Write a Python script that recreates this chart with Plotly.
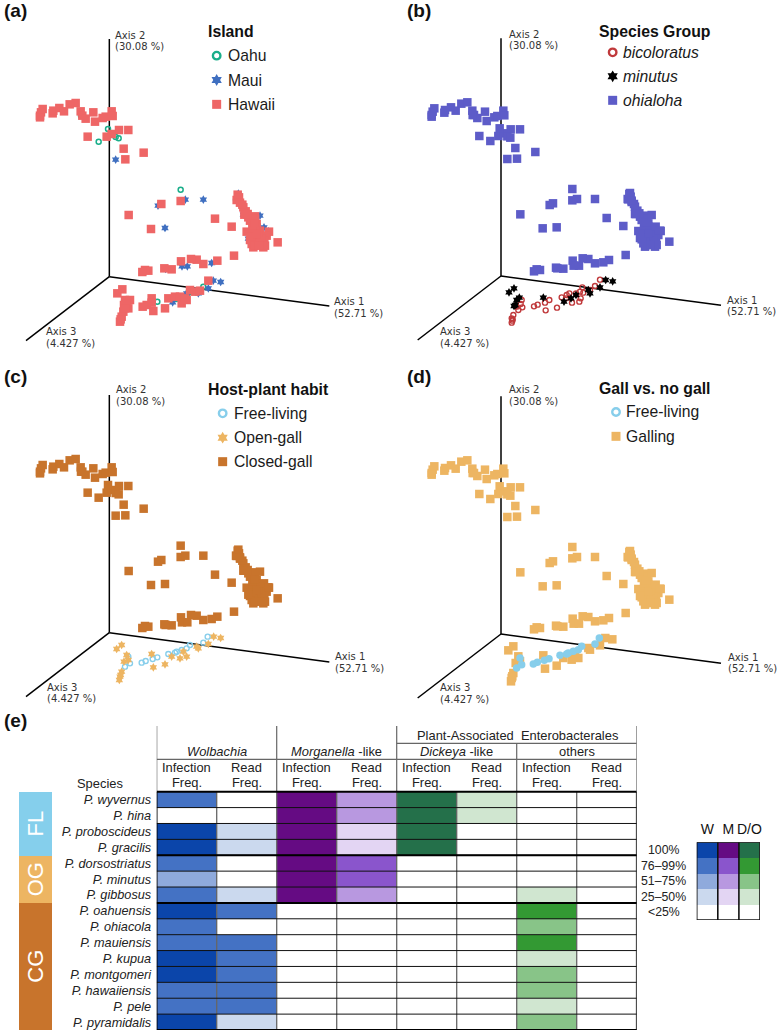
import plotly.graph_objects as go

W, H = 777, 1032
SANS = "Liberation Sans"
AXF = "DejaVu Sans"

# ---------- ordination data (units: 1/3 px, y downward in source crops) ----------
SRC_A = (328, 830)
SRC_B = (333, 828)
SRC_C = (328, 848)

upper_hawaii = [(125,345),(128,335),(133,325),(125,350),(163,338),(165,330),(183,322),(197,332),(214,311),(232,307),(247,332),
    (252,345),(262,354),(285,335),(290,363),(313,352),(322,348),(340,332),(343,346),(362,388),(390,388),(268,408),
    (325,408),(340,400),(376,444),(381,476),(436,456),(547,601),(489,610),(391,643),(458,685),(650,654),(700,678),
    (718,582),(715,598),(722,590),(725,606),(735,620),(742,632),(738,642),(750,650),(770,647),(765,660),(775,670),(745,693),
    (765,690),(785,690),(812,693),(770,705),(790,705),(805,705),(755,718),(780,718),(798,720),(838,725),(765,740),
    (795,740),(760,730),(790,730),(775,680),(770,690),(775,712),(785,725),(770,725),(762,675),(790,715),(800,735),
    (755,660),(770,655),(768,668),(780,698),(762,700),(758,708),(768,735),(782,735),(775,700),(748,640),(732,612),
    (707,765),(657,780),(615,790),(595,777),(578,775),(548,782),(520,806),(498,803),(450,810),(440,808),(432,814)]
upper_oahu = [(248,345),(329,385),(352,409),(361,413),(301,423),(547,567),(713,597)]
upper_maui = [(352,477),(479,615),(561,597),(615,597),(500,682),(720,579),(725,602),(735,642),(785,645),(797,680),
    (810,692),(750,714),(640,787),(551,797),(567,797),(502,805)]

lower_a_hawaii = [(352,880),(367,868),(375,900),(390,900),(372,915),(385,925),(370,935),(365,950),(360,965),(362,958),
    (380,910),(428,920),(440,915),(455,895),(460,933),(495,925),(505,895),(525,890),(545,910),(560,900),(570,870),
    (585,875),(600,872),(625,842),(540,890),(555,895),(455,908),(375,925)]
lower_a_oahu = [(472,905),(528,897),(565,878),(610,860)]
lower_a_maui = [(640,842),(662,846),(625,865),(595,880),(518,907),(560,880)]

lower_b_bicoloratus = [(630,839),(615,858),(600,870),(577,862),(570,875),(580,878),(558,880),(538,880),(530,885),(515,892),
    (528,895),(546,908),(568,905),(572,895),(478,900),(465,908),(443,914),(432,919),(467,931),(501,923),(395,900),
    (392,912),(397,922),(385,930),(370,945),(365,955),(367,962),(365,968),(368,958),(380,920)]
lower_b_minutus = [(647,840),(668,844),(630,862),(600,880),(595,870),(558,885),(543,895),(522,905),(460,893),(372,865),
    (357,877),(388,893),(380,900),(376,915),(372,918)]

lower_c_free = [(623,860),(610,878),(570,885),(560,895),(525,908),(505,912),(472,922),(458,927),(437,933),(425,938),
    (390,940),(385,920),(375,950),(530,905),(545,900)]
lower_c_open = [(641,860),(662,864),(625,882),(595,895),(590,890),(550,905),(515,920),(540,925),(560,920),(455,912),
    (495,943),(460,952),(365,885),(350,897),(380,915),(372,935),(385,930),(365,965),(360,980),(358,990),(362,975)]

# Axis end points, relative to the origin
axis_ends = [(660, -88), (0, 713), (-250, -192)]

# ---------- table data ----------
species = ["P. wyvernus","P. hina","P. proboscideus","P. gracilis","P. dorsostriatus","P. minutus","P. gibbosus",
           "P. oahuensis","P. ohiacola","P. mauiensis","P. kupua","P. montgomeri","P. hawaiiensis","P. pele","P. pyramidalis"]
wolbachia_inf  = [3,0,4,4,3,2,3,4,3,3,4,4,3,3,4]
wolbachia_read = [0,0,1,1,0,0,1,3,0,3,3,3,3,3,1]
morganella_inf  = [4,4,4,4,4,4,4,0,0,0,0,0,0,0,0]
morganella_read = [2,2,1,1,3,3,2,0,0,0,0,0,0,0,0]
dickeya_inf  = [4,4,4,4,0,0,0,0,0,0,0,0,0,0,0]
dickeya_read = [1,1,0,0,0,0,0,0,0,0,0,0,0,0,0]
others_inf  = [0,0,0,0,0,0,1,3,2,3,1,2,2,1,2]
others_read = [0]*15
table_columns = [wolbachia_inf, wolbachia_read, morganella_inf, morganella_read,
                 dickeya_inf, dickeya_read, others_inf, others_read]
column_family = [0,0,1,1,2,2,2,2]
habit_groups = ["FL","OG","CG"]
habit_sizes = [4,3,8]
habit_colors = ["#85CFEC","#EDB562","#C8742C"]
level_labels = ["100%","76–99%","51–75%","25–50%","<25%"]
family_labels = ["W","M","D/O"]
palette = [["#FFFFFF","#CBD9EE","#8FAADC","#4472C4","#0B45AA"],
           ["#FFFFFF","#E3D5F3","#B898E0","#8A55CC","#650B83"],
           ["#FFFFFF","#D0E6D0","#88C488","#339933","#24704A"]]

# ---------- helpers ----------
def xd(a, b): return [a / W, b / W]
def yd(top, bottom): return [1 - bottom / H, 1 - top / H]
def rel(points, origin):
    return [p[0] - origin[0] for p in points], [origin[1] - p[1] for p in points]

fig = go.Figure()
layout = dict(width=W, height=H, margin=dict(l=0, r=0, t=0, b=0, autoexpand=False), paper_bgcolor="white", plot_bgcolor="rgba(0,0,0,0)",
              showlegend=False, font=dict(family=SANS, color="#222222"), bargap=0)
annotations, shapes = [], []

def add_ann(n, x, y, text, size, family=SANS, xanchor="left", color="#111111", textangle=0):
    annotations.append(dict(xref=f"x{n}", yref=f"y{n}", x=x, y=y, text=text, showarrow=False, xanchor=xanchor,
                            xshift=-1.5 if xanchor == "left" else 0,
                            yanchor="middle", align="left" if xanchor == "left" else "center",
                            font=dict(family=family, size=size, color=color), textangle=textangle))

def add_paper(px, py, text, size, xanchor="center", color="#222222"):
    annotations.append(dict(xref="paper", yref="paper", x=px / W, y=1 - py / H, text=text, showarrow=False,
                            xanchor=xanchor, yanchor="middle", font=dict(family=SANS, size=size, color=color)))

def setup_panel(n, dom_x, dom_y, origin_px):
    ox, oy = origin_px
    layout[f"xaxis{n}"] = dict(domain=xd(*dom_x), range=[(dom_x[0]-ox)*3, (dom_x[1]-ox)*3], visible=False, anchor=f"y{n}", fixedrange=True)
    layout[f"yaxis{n}"] = dict(domain=yd(*dom_y), range=[(oy-dom_y[1])*3, (oy-dom_y[0])*3], visible=False, anchor=f"x{n}", fixedrange=True)
    for ex, ey in axis_ends:
        fig.add_trace(go.Scatter(x=[0, ex], y=[0, ey], mode="lines", line=dict(color="black", width=1.5),
                                 xaxis=f"x{n}", yaxis=f"y{n}", hoverinfo="skip", cliponaxis=False))

def add_points(n, xy, symbol, color, size, hollow=False, lw=1.6):
    marker = dict(symbol=symbol, size=size, color=color, line=dict(width=0))
    if hollow:
        marker = dict(symbol="circle-open", size=size, color=color, line=dict(width=lw, color=color))
    fig.add_trace(go.Scatter(x=xy[0], y=xy[1], mode="markers", marker=marker, xaxis=f"x{n}", yaxis=f"y{n}", cliponaxis=False))

def add_legend(n, title, title_xy, items):
    add_ann(n, title_xy[0], title_xy[1], f"<b>{title}</b>", 15.8, color="#111111")
    for label, mx, tx, y, symbol, color, hollow in items:
        if hollow:
            add_points(n, ([mx], [y]), symbol, color, 7.5, True, 2.4)
        else:
            add_points(n, ([mx], [y]), symbol, color, 9)
        add_ann(n, tx, y, label, 15.7, color="#1a1a1a")

def axis_labels(n, pos):
    (a1x, a1y), (a2x, a2y), (a3x, a3y) = pos
    for x, y, t1, t2 in [(a1x, a1y, "Axis 1", "(52.71 %)"), (a2x, a2y, "Axis 2", "(30.08 %)"), (a3x, a3y, "Axis 3", "(4.427 %)")]:
        add_ann(n, x, y + 17, t1, 10, AXF, color="#333333")
        add_ann(n, x, y - 17, t2, 10, AXF, color="#333333")

upper_all = upper_hawaii + upper_oahu + upper_maui
PX_B = (501, 276)

# Panel a
setup_panel(1, (0, 388), (0, 345), (109.33, 276.67))
add_points(1, rel(upper_oahu, SRC_B), "circle", "#1AAE8A", 5, True, 1.5)
add_points(1, rel(lower_a_oahu, SRC_A), "circle", "#1AAE8A", 5, True, 1.5)
add_points(1, rel(upper_maui, SRC_B), "hexagram", "#3F6FC0", 6.5)
add_points(1, rel(lower_a_maui, SRC_A), "hexagram", "#3F6FC0", 6.5)
add_points(1, rel(upper_hawaii, SRC_B), "square", "#EE6666", 8.5)
add_points(1, rel(lower_a_hawaii, SRC_A), "square", "#EE6666", 8.5)
add_legend(1, "Island", (622-328, 830-95), [
    ("Oahu", 650-328, 683-328, 830-167, "circle", "#1AAE8A", True),
    ("Maui", 650-328, 683-328, 830-240, "hexagram", "#3F6FC0", False),
    ("Hawaii", 650-328, 683-328, 830-313, "square", "#EE6666", False)])
axis_labels(1, [(672, -92), (16, 707), (-193, -182)])

# Panel b
setup_panel(2, (388, 777), (0, 345), PX_B)
add_points(2, rel(upper_all, SRC_B), "square", "#5D5CC8", 8.5)
add_points(2, rel(lower_b_bicoloratus, SRC_B), "circle", "#C0393B", 5, True, 1.4)
add_points(2, rel(lower_b_minutus, SRC_B), "hexagram", "#000000", 6.5)
add_legend(2, "Species Group", (626-333, 828-95), [
    ("<i>bicoloratus</i>", 668-333, 698-333, 828-157, "circle", "#C0393B", True),
    ("<i>minutus</i>", 668-333, 698-333, 828-229, "hexagram", "#000000", False),
    ("<i>ohialoha</i>", 668-333, 698-333, 828-301, "square", "#5D5CC8", False)])
axis_labels(2, [(677, -89), (22, 708), (-186, -184)])

# Panel c
setup_panel(3, (0, 388), (345, 700), (109.33, 632.67))
add_points(3, rel(upper_all, SRC_B), "square", "#C8742C", 8.5)
add_points(3, rel(lower_c_free, SRC_C), "circle", "#87CEEB", 5, True, 1.4)
add_points(3, rel(lower_c_open, SRC_C), "hexagram", "#EDB562", 6.5)
add_legend(3, "Host-plant habit", (622-328, 848-120), [
    ("Free-living", 668-328, 700-328, 848-190, "circle", "#87CEEB", True),
    ("Open-gall", 668-328, 700-328, 848-263, "hexagram", "#EDB562", False),
    ("Closed-gall", 668-328, 700-328, 848-335, "square", "#C8742C", False)])
axis_labels(3, [(675, -89), (19, 711), (-190, -180)])

# Panel d
setup_panel(4, (388, 777), (345, 700), (501, 634))
add_points(4, rel(upper_all, SRC_B), "square", "#EDB562", 8.5)
add_points(4, rel(lower_c_open, SRC_C), "square", "#EDB562", 8.5)
add_points(4, rel(lower_c_free, SRC_C), "circle", "#87CEEB", 7.5, False)
add_legend(4, "Gall vs. no gall", (625-333, 852-117), [
    ("Free-living", 678-333, 705-333, 852-186, "circle", "#87CEEB", True),
    ("Galling", 678-333, 705-333, 852-259, "square", "#EDB562", False)])
axis_labels(4, [(678, -86), (23, 715), (-186, -178)])

# ---------- Panel e: table heatmap ----------
T_TOP, T_ROW0, T_BOT, T_L, T_R = 726.0, 791.7, 1030.0, 156.7, 636.7
ROW = (T_BOT - T_ROW0) / 15
HEAD = -(T_ROW0 - T_TOP) / ROW
def row_of(px): return (px - T_ROW0) / ROW

flat_scale = []
n_colors = 15
for i in range(n_colors):
    c = palette[i // 5][i % 5]
    flat_scale += [[i / n_colors, c], [(i + 1) / n_colors, c]]

z = [[column_family[c] * 5 + table_columns[c][r] for c in range(8)] for r in range(15)]
fig.add_trace(go.Heatmap(z=z, x=[i + .5 for i in range(8)], y=[i + .5 for i in range(15)], zmin=0, zmax=15,
                         colorscale=flat_scale, showscale=False, xaxis="x5", yaxis="y5", hoverinfo="skip"))
layout["xaxis5"] = dict(domain=xd(T_L, T_R), range=[0, 8], visible=False, anchor="y5", fixedrange=True)
layout["yaxis5"] = dict(domain=yd(T_TOP, T_BOT), range=[15, HEAD], anchor="x5", fixedrange=True, showgrid=False, zeroline=False,
                        showline=False, tickmode="array", tickvals=[i + .5 for i in range(15)],
                        ticktext=[f"<i>{s}</i>" for s in species], ticks="outside", ticklen=2, tickcolor="rgba(0,0,0,0)",
                        tickfont=dict(family=SANS, size=12.7, color="#222222"))

def seg(x0, y0, x1, y1, color, width):
    shapes.append(dict(type="line", xref="x5", yref="y5", x0=x0, y0=y0, x1=x1, y1=y1, line=dict(color=color, width=width)))

GREY, BLACK = "#666666", "#000000"
for c in range(1, 8):
    seg(c, 0, c, 15, GREY, 1.3)
for r in range(1, 15):
    seg(0, r, 8, r, "#111111", 1)
for c in (0, 2, 4, 8):
    seg(c, HEAD, c, 0, GREY, 1.2)
seg(6, row_of(743.3), 6, 0, GREY, 1.2)
seg(0, row_of(759.3), 8, row_of(759.3), GREY, 1.2)
seg(4, row_of(743.3), 8, row_of(743.3), GREY, 1.2)
for r in (0, 4, 7, 15):
    seg(0, r, 8, r, BLACK, 2)
seg(0, 0, 0, 15, BLACK, 1.6)
seg(8, 0, 8, 15, BLACK, 1.6)

HF = 12.9
add_ann(5, 1, row_of(751), "<i>Wolbachia</i>", HF, xanchor="center", color="#222222")
add_ann(5, 3, row_of(751), "<i>Morganella</i> -like", HF, xanchor="center", color="#222222")
add_ann(5, 5, row_of(751), "<i>Dickeya</i> -like", HF, xanchor="center", color="#222222")
add_ann(5, 7, row_of(751), "others", HF, xanchor="center", color="#222222")
add_ann(5, 6.02, row_of(735.7), "Plant-Associated  Enterobacterales", HF, xanchor="center", color="#222222")
for c in range(8):
    add_ann(5, c + .5, row_of(767), "Infection" if c % 2 == 0 else "Read", HF, xanchor="center", color="#222222")
    add_ann(5, c + .5, row_of(782.5), "Freq.", HF, xanchor="center", color="#222222")
add_paper(100, 783, "Species", HF)

# Habit side bar
base = [sum(habit_sizes[:i]) for i in range(3)]
fig.add_trace(go.Bar(x=[0, 0, 0], y=habit_sizes, base=base, width=1, marker=dict(color=habit_colors, line=dict(width=0)),
                     text=habit_groups, textposition="inside", insidetextanchor="middle", textangle=-90,
                     constraintext="none", insidetextfont=dict(family=SANS, size=22, color="white"),
                     xaxis="x6", yaxis="y6", hoverinfo="skip"))
layout["xaxis6"] = dict(domain=xd(18.7, 52), range=[-.5, .5], visible=False, anchor="y6", fixedrange=True)
layout["yaxis6"] = dict(domain=yd(T_ROW0, T_BOT), range=[15, 0], visible=False, anchor="x6", fixedrange=True)

# Colour key
L_L, L_R, L_T, L_B = 696.7, 760.0, 842.3, 920.0
key_z = [[f * 5 + lvl for f in range(3)] for lvl in (4, 3, 2, 1, 0)]
fig.add_trace(go.Heatmap(z=key_z, x=[.5, 1.5, 2.5], y=[.5, 1.5, 2.5, 3.5, 4.5], zmin=0, zmax=15, colorscale=flat_scale,
                         showscale=False, xaxis="x7", yaxis="y7", hoverinfo="skip"))
layout["xaxis7"] = dict(domain=xd(L_L, L_R), range=[0, 3], anchor="y7", side="top", fixedrange=True, showgrid=False, zeroline=False,
                        tickmode="array", tickvals=[.5, 1.5, 2.5], ticktext=family_labels, ticks="outside", ticklen=2,
                        tickcolor="rgba(0,0,0,0)", tickfont=dict(family=SANS, size=14, color="#111111"))
layout["yaxis7"] = dict(domain=yd(L_T, L_B), range=[5, 0], visible=False, anchor="x7", fixedrange=True)
KEY_ROW = (L_B - L_T) / 5
for i, lab in enumerate(level_labels):
    add_paper(663.5, L_T + (i + .5) * KEY_ROW, lab, 12.3)
for c in (0, 1, 2, 3):
    shapes.append(dict(type="line", xref="x7", yref="y7", x0=c, x1=c, y0=0, y1=5, line=dict(color="#111111", width=1.6)))
for r in (0, 5):
    shapes.append(dict(type="line", xref="x7", yref="y7", x0=0, x1=3, y0=r, y1=r, line=dict(color="#111111", width=1.6)))

# Panel letters
for label, px, py in [("(a)", 2, 10), ("(b)", 405, 10), ("(c)", 2, 376), ("(d)", 405, 376), ("(e)", 2, 720.7)]:
    add_paper(px, py, f"<b>{label}</b>", 19, xanchor="left", color="#111111")

layout["annotations"] = annotations
layout["shapes"] = shapes
fig.update_layout(**layout)
fig.write_html("out.html", config=dict(displayModeBar=False),
               post_script="document.body.style.margin='0';")
